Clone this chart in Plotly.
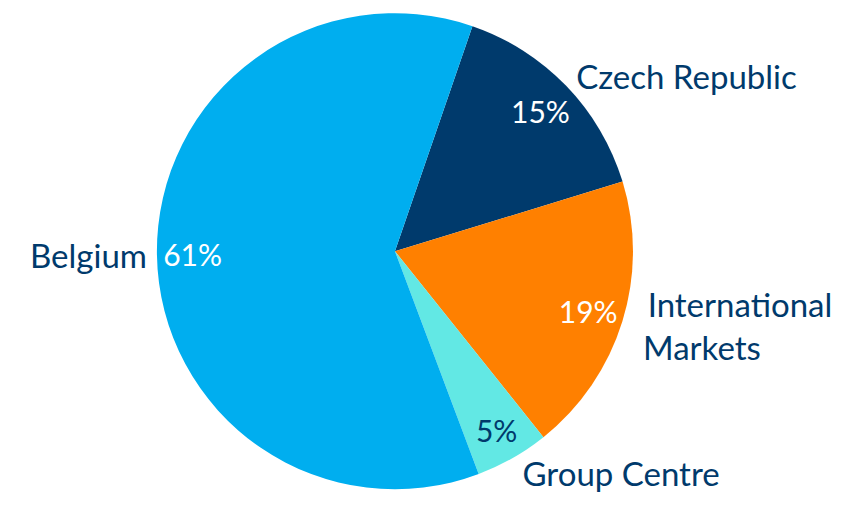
import plotly.graph_objects as go

categories = ["Czech Republic", "International<br>Markets" + "&nbsp;" * 9, "Group Centre", "Belgium"]
shares = [15, 19, 5, 61]
colors = ["#003A6C", "#FF8000", "#62E8E4", "#00AEEF"]
pct_colors = ["#FFFFFF", "#FFFFFF", "#003A6C", "#FFFFFF"]
label_color = "#003A6C"
font_family = "Lato, 'Open Sans', sans-serif"

dom = dict(x=[0.1745, 0.7435], y=[0.0587, 0.9977])
common = dict(labels=categories, values=shares, sort=False, direction="clockwise",
              rotation=19, domain=dom, showlegend=False, hoverinfo="skip")

fig = go.Figure()
# filled slices
fig.add_trace(go.Pie(**common, marker=dict(colors=colors, line=dict(width=0)),
                     textinfo="none"))
# percentage labels inside near the rim
fig.add_trace(go.Pie(**common, hole=0.7,
                     marker=dict(colors=["rgba(0,0,0,0)"] * 4, line=dict(width=0)),
                     textinfo="percent", textposition="inside",
                     insidetextorientation="horizontal",
                     insidetextfont=dict(family=font_family, size=30, color=pct_colors)))
# category labels outside
fig.add_trace(go.Pie(**common,
                     marker=dict(colors=["rgba(0,0,0,0)"] * 4, line=dict(width=0)),
                     textinfo="label", textposition="outside",
                     outsidetextfont=dict(family=font_family, size=33, color=label_color)))

fig.update_layout(width=843, height=511, margin=dict(l=0, r=0, t=0, b=0),
                  paper_bgcolor="white", plot_bgcolor="white")
fig.write_html("out.html")
